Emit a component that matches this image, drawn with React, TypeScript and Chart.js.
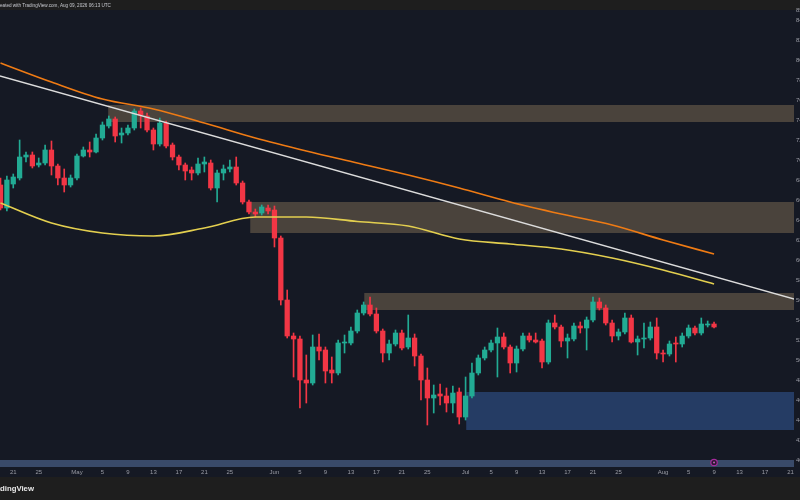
import React, { useEffect, useRef } from "react";
import { Chart, registerables } from "chart.js";

Chart.register(...registerables);

// ---- time axis (day index 0 = Apr 19) ----
const tickIndex = [2, 6, 12, 16, 20, 24, 28, 32, 36, 43, 47, 51, 55, 59, 63, 67, 73, 77, 81, 85, 89, 93, 97, 104, 108, 112, 116, 120, 124];
const tickText = ["21", "25", "May", "5", "9", "13", "17", "21", "25", "Jun", "5", "9", "13", "17", "21", "25", "Jul", "5", "9", "13", "17", "21", "25", "Aug", "5", "9", "13", "17", "21"];

// ---- daily candles ----
const opens = [67.5, 65.2, 67.6, 68.2, 70.3, 70.5, 69.5, 69.7, 71.0, 69.4, 68.2, 67.5, 68.2, 70.4, 71.0, 70.8, 72.2, 73.4, 74.1, 72.5, 72.7, 73.2, 74.9, 74.4, 73.0, 71.6, 73.7, 71.5, 70.3, 69.5, 69.0, 68.7, 69.6, 69.7, 67.2, 68.7, 69.1, 69.3, 67.7, 65.8, 64.8, 64.7, 65.2, 65.0, 62.2, 56.0, 52.4, 52.1, 48.0, 47.7, 51.3, 51.0, 49.0, 48.7, 51.7, 51.7, 52.9, 54.7, 55.5, 54.6, 52.9, 50.7, 51.6, 52.7, 51.3, 52.2, 50.4, 48.0, 46.2, 46.6, 46.4, 45.7, 46.8, 44.3, 46.4, 48.7, 50.2, 51.0, 51.7, 52.3, 51.3, 49.7, 51.1, 52.4, 52.0, 51.9, 49.8, 53.7, 53.3, 51.9, 52.1, 53.4, 53.2, 54.0, 55.8, 55.2, 53.7, 52.4, 52.8, 54.2, 51.8, 52.1, 52.2, 53.3, 50.7, 50.6, 51.7, 51.6, 52.4, 53.2, 52.7, 53.5, 53.6];
const highs = [68.2, 68.4, 68.6, 72.0, 70.8, 70.8, 70.2, 71.5, 71.9, 69.6, 69.1, 68.5, 70.6, 71.3, 71.8, 72.6, 73.8, 74.4, 74.3, 73.2, 73.5, 75.1, 75.2, 74.7, 73.2, 74.2, 73.9, 71.7, 70.5, 69.7, 69.3, 70.2, 70.3, 70.0, 69.0, 69.5, 70.0, 70.3, 67.9, 66.0, 65.1, 65.5, 65.5, 65.4, 62.4, 57.0, 52.7, 52.4, 50.5, 52.5, 52.6, 51.3, 50.3, 52.0, 52.5, 53.3, 55.0, 55.8, 56.3, 55.2, 53.1, 52.0, 53.0, 53.0, 54.5, 52.6, 50.6, 49.2, 47.5, 47.6, 47.2, 47.4, 47.2, 48.3, 49.7, 50.5, 51.3, 52.0, 53.2, 52.7, 51.5, 51.4, 52.7, 52.7, 52.7, 52.1, 54.0, 54.5, 53.5, 52.6, 53.7, 53.8, 54.3, 56.3, 56.2, 55.5, 54.0, 53.1, 54.7, 54.5, 52.4, 53.7, 53.8, 54.2, 51.0, 51.9, 52.3, 52.7, 53.5, 53.4, 54.2, 53.9, 53.8];
const lows = [65.0, 64.9, 67.2, 68.0, 69.8, 69.2, 69.3, 69.5, 68.5, 67.5, 66.8, 67.3, 68.0, 70.3, 70.3, 70.7, 72.0, 73.2, 71.8, 71.7, 72.5, 73.0, 73.2, 72.8, 71.0, 71.4, 71.2, 70.0, 69.0, 68.0, 68.0, 68.5, 68.8, 67.0, 65.8, 68.0, 68.8, 67.5, 65.6, 64.6, 64.3, 64.5, 64.6, 61.3, 55.5, 52.2, 48.3, 45.2, 45.7, 47.5, 50.0, 47.7, 47.7, 48.5, 50.7, 51.5, 52.7, 54.5, 54.4, 52.7, 49.8, 50.0, 51.4, 51.0, 51.1, 49.4, 46.0, 43.5, 44.7, 45.5, 44.8, 44.7, 43.6, 44.0, 46.2, 48.5, 50.0, 50.8, 48.3, 51.1, 48.7, 48.8, 50.9, 51.8, 51.7, 49.2, 49.6, 53.1, 51.3, 50.2, 51.9, 52.7, 51.0, 53.8, 55.0, 53.5, 51.8, 52.0, 52.6, 51.7, 50.5, 51.2, 52.0, 50.1, 49.8, 50.4, 49.8, 51.3, 52.2, 52.5, 52.5, 53.3, 53.2];
const closes = [65.2, 68.0, 68.3, 70.3, 70.5, 69.4, 69.7, 71.0, 69.4, 68.2, 67.5, 68.2, 70.4, 71.0, 70.8, 72.2, 73.5, 74.1, 72.4, 72.7, 73.2, 74.9, 74.5, 73.0, 71.6, 73.7, 71.4, 70.3, 69.5, 68.9, 68.7, 69.6, 69.8, 67.2, 68.7, 69.1, 69.3, 67.7, 65.8, 64.8, 64.6, 65.3, 64.9, 62.2, 56.0, 52.4, 52.1, 48.0, 47.7, 51.3, 50.9, 48.9, 48.7, 51.7, 51.8, 52.9, 54.7, 55.5, 54.6, 52.9, 50.7, 51.6, 52.7, 51.2, 52.2, 50.4, 48.0, 46.2, 46.5, 46.4, 45.7, 46.7, 44.3, 46.4, 48.7, 50.2, 51.0, 51.7, 52.3, 51.3, 49.7, 51.1, 52.4, 52.0, 51.8, 49.8, 53.7, 53.3, 51.9, 52.2, 53.4, 53.2, 54.0, 55.8, 55.2, 53.7, 52.4, 52.8, 54.2, 51.8, 52.1, 52.2, 53.3, 50.7, 50.6, 51.6, 51.6, 52.4, 53.2, 52.7, 53.6, 53.6, 53.3];

// ---- moving averages (sampled every 8 days) ----
const maIndex = [0, 8, 16, 24, 32, 40, 48, 56, 64, 72, 80, 88, 96, 104, 112];
const maLong = [79.7, 77.8, 76.1, 75.1, 73.7, 72.2, 70.9, 69.7, 68.5, 67.2, 65.8, 64.6, 63.5, 62.0, 60.6];
const maShort = [65.7, 63.7, 62.7, 62.4, 63.2, 64.3, 64.3, 63.85, 63.4, 62.1, 61.6, 61.1, 60.2, 59.0, 57.6];

// ---- descending trendline ----
const trendIndex = [-0.1, 124.6];
const trendValue = [78.4, 56.1];

// ---- horizontal zones ----
const zoneStart = [16.9, 39.2, 57.1, 73.1];
const zoneTop = [75.5, 65.8, 56.7, 46.8];
const zoneBottom = [73.8, 62.7, 55.0, 43.0];
const zoneKind = ["supply", "supply", "supply", "demand"];

const X_MIN = -0.08;
const X_MAX = 124.55;
const Y_MIN = 40;
const Y_MAX = 85;

const UP = "#22ab94";
const DOWN = "#f23645";

const framePlugin = {
  id: "tvFrame",
  beforeDraw(chart: any) {
    const { ctx, width, height, chartArea: a, scales } = chart;
    const xs = scales.x;
    const ys = scales.y;
    ctx.save();
    ctx.fillStyle = "#1e1e1e";
    ctx.fillRect(0, 0, width, height);
    ctx.fillStyle = "#151924";
    ctx.fillRect(0, a.top, width, a.bottom + 17 - a.top);
    ctx.fillStyle = "#394a69";
    ctx.fillRect(a.left, a.bottom, a.right - a.left, 7);
    ctx.beginPath();
    ctx.rect(a.left, a.top, a.right - a.left, a.bottom - a.top);
    ctx.clip();
    zoneStart.forEach((s, k) => {
      const x0 = xs.getPixelForValue(s);
      const x1 = xs.getPixelForValue(X_MAX);
      const y0 = ys.getPixelForValue(zoneTop[k]);
      const y1 = ys.getPixelForValue(zoneBottom[k]);
      ctx.fillStyle = zoneKind[k] === "demand" ? "rgba(52,92,160,0.52)" : "rgba(140,120,90,0.45)";
      ctx.fillRect(x0, y0, x1 - x0, y1 - y0);
    });
    ctx.restore();
  },
  afterDraw(chart: any) {
    const { ctx, chartArea: a, scales } = chart;
    ctx.save();
    // header
    const head = "Created with TradingView.com, Aug 09, 2026 06:13 UTC";
    ctx.font = "10px 'Liberation Sans', Arial, sans-serif";
    const fullW = ctx.measureText(head.slice(2)).width;
    const hs = (10 * 111) / fullW;
    ctx.font = `${hs}px 'Liberation Sans', Arial, sans-serif`;
    const off = ctx.measureText("Cr").width;
    ctx.fillStyle = "#c9cbd1";
    ctx.textBaseline = "middle";
    ctx.textAlign = "left";
    ctx.fillText(head, -off, 5.5);
    // footer
    ctx.font = "bold 10px 'Liberation Sans', Arial, sans-serif";
    const fw = ctx.measureText("dingView").width;
    const fs = (10 * 34) / fw;
    ctx.font = `bold ${fs}px 'Liberation Sans', Arial, sans-serif`;
    const foff = ctx.measureText("Tra").width;
    ctx.fillStyle = "#e8e8e8";
    ctx.fillText("TradingView", -foff, 488.5);
    // event marker on the time strip
    const mx = scales.x.getPixelForValue(112);
    const my = a.bottom + 2.5;
    ctx.beginPath();
    ctx.arc(mx, my, 3.2, 0, Math.PI * 2);
    ctx.fillStyle = "#2a1730";
    ctx.fill();
    ctx.lineWidth = 1.2;
    ctx.strokeStyle = "#a52a9c";
    ctx.stroke();
    ctx.beginPath();
    ctx.arc(mx, my, 1, 0, Math.PI * 2);
    ctx.fillStyle = "#c05abb";
    ctx.fill();
    ctx.restore();
  },
};

export default function App() {
  const ref = useRef<HTMLCanvasElement | null>(null);

  useEffect(() => {
    const canvas = ref.current;
    if (!canvas) return;
    const idx = opens.map((_, i) => i);
    const colors = idx.map((i) => (closes[i] >= opens[i] ? UP : DOWN));
    const chart = new Chart(canvas, {
      type: "bar",
      data: {
        datasets: [
          {
            type: "line",
            label: "Trendline",
            data: trendIndex.map((x, i) => ({ x, y: trendValue[i] })),
            borderColor: "#dcdcdc",
            borderWidth: 1.5,
            pointRadius: 0,
            order: 0,
          } as any,
          {
            type: "line",
            label: "MA 200",
            data: maIndex.map((x, i) => ({ x, y: maLong[i] })),
            borderColor: "#ef7b14",
            borderWidth: 1.6,
            pointRadius: 0,
            cubicInterpolationMode: "monotone",
            order: 0,
          } as any,
          {
            type: "line",
            label: "MA 100",
            data: maIndex.map((x, i) => ({ x, y: maShort[i] })),
            borderColor: "#e3cf4f",
            borderWidth: 1.6,
            pointRadius: 0,
            cubicInterpolationMode: "monotone",
            order: 0,
          } as any,
          {
            type: "bar",
            label: "Body",
            data: idx.map((i) => ({ x: i, y: [opens[i], closes[i]] })),
            backgroundColor: colors,
            barThickness: 4.6,
            minBarLength: 1,
            grouped: false,
            order: 1,
          } as any,
          {
            type: "bar",
            label: "Wick",
            data: idx.map((i) => ({ x: i, y: [lows[i], highs[i]] })),
            backgroundColor: colors,
            barThickness: 1,
            grouped: false,
            order: 2,
          } as any,
        ],
      },
      options: {
        animation: false,
        responsive: false,
        devicePixelRatio: 1,
        events: [],
        layout: { padding: { top: 10, bottom: 23, left: 0, right: 0 } },
        plugins: { legend: { display: false }, tooltip: { enabled: false } },
        scales: {
          x: {
            type: "linear",
            min: X_MIN,
            max: X_MAX,
            offset: false,
            grid: { display: false, drawTicks: false },
            border: { display: false },
            afterBuildTicks: (axis: any) => {
              axis.ticks = tickIndex.map((v) => ({ value: v }));
            },
            afterFit: (s: any) => {
              s.height = 17;
              s.paddingLeft = 0;
              s.paddingRight = 0;
            },
            ticks: {
              autoSkip: false,
              maxRotation: 0,
              padding: 9,
              color: "#9a9ca5",
              font: { size: 6, family: "'Liberation Sans', Arial, sans-serif" },
              callback: (v: any) => {
                const k = tickIndex.indexOf(Number(v));
                return k >= 0 ? tickText[k] : "";
              },
            },
          },
          y: {
            type: "linear",
            position: "right",
            min: Y_MIN,
            max: Y_MAX,
            grid: { display: false, drawTicks: false },
            border: { display: false },
            afterFit: (s: any) => {
              s.width = 6;
              s.paddingTop = 0;
              s.paddingBottom = 0;
            },
            ticks: {
              stepSize: 2,
              padding: 2,
              color: "#9a9ca5",
              font: { size: 6, family: "'Liberation Sans', Arial, sans-serif" },
              callback: (v: any) => Number(v).toFixed(2),
            },
          },
        },
      } as any,
      plugins: [framePlugin],
    });
    return () => chart.destroy();
  }, []);

  return (
    <div style={{ position: "fixed", left: 0, top: 0, width: 800, height: 500, overflow: "hidden", background: "#1e1e1e" }}>
      <canvas ref={ref} width={800} height={500} style={{ display: "block", width: 800, height: 500 }} />
    </div>
  );
}
